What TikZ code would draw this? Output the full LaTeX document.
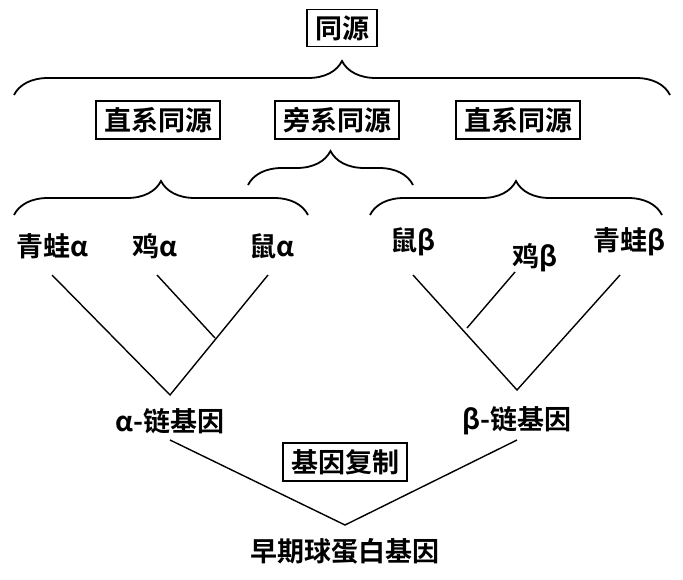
\documentclass[tikz,border=0pt]{standalone}
\usepackage{fontspec}
\setmainfont{Liberation Serif}
\newfontfamily\cjk{Noto Sans CJK SC}[BoldFont={Noto Sans CJK SC Bold}]
\usetikzlibrary{decorations.pathreplacing}
\begin{document}
\begin{tikzpicture}[x=1pt,y=-1pt,
  lbl/.style={font=\cjk\bfseries\fontsize{27}{29}\selectfont, inner sep=2pt},
  bx/.style={lbl, draw, line width=1.8pt, inner xsep=8pt, inner ysep=6pt},
  br/.style={line width=1.8pt, decorate, decoration={brace, amplitude=#1}},
  ln/.style={line width=1.4pt}]
\useasboundingbox (0,0) rectangle (683,579);
\node[bx] (ty) at (342,28) {同源};
\node[bx] (z1) at (158,120) {直系同源};
\node[bx] (pb) at (337,120) {旁系同源};
\node[bx] (z2) at (518,120) {直系同源};
\draw[br=34] (14,95) -- (670,95);
\draw[br=34] (14,215) -- (308,215);
\draw[br=34] (248,185) -- (413,185);
\draw[br=34] (370,215) -- (662,215);
\node[lbl] (fa) at (52,246) {青蛙α};
\node[lbl] (ca) at (155,246) {鸡α};
\node[lbl] (ma) at (272,246) {鼠α};
\node[lbl] (mb) at (413,242) {鼠β};
\node[lbl] (cb) at (535,258) {鸡β};
\node[lbl] (fb) at (630,242) {青蛙β};
\coordinate (ja) at (170,395);
\coordinate (jb) at (517,390);
\coordinate (ka) at (215,338);
\coordinate (kb) at (467,328);
\draw[ln] (52,275) -- (ja) -- (268,275);
\draw[ln] (157,275) -- (ka);
\draw[ln] (413,275) -- (jb) -- (620,275);
\draw[ln] (515,272) -- (kb);
\node[lbl] (ag) at (170,421) {α-链基因};
\node[lbl] (bg) at (517,421) {β-链基因};
\node[bx] (fz) at (345,462) {基因复制};
\coordinate (jr) at (345,525);
\draw[ln] (170,440) -- (jr) -- (517,440);
\node[lbl] (zq) at (345,551) {早期球蛋白基因};
\end{tikzpicture}
\end{document}
